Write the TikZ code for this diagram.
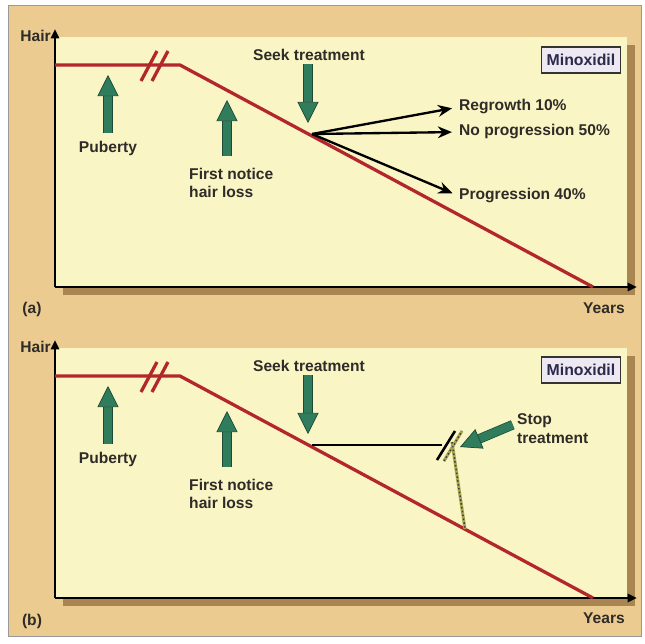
\documentclass[tikz,border=0pt]{standalone}
\usepackage{fontspec}
\setmainfont{Liberation Sans}
\usetikzlibrary{arrows.meta,
    calc,
    positioning}
\definecolor{frametan}{HTML}{EBCB8F}
\definecolor{paneyellow}{HTML}{FAF5C4}
\definecolor{shadowbrown}{HTML}{A98552}
\definecolor{hairred}{HTML}{B3262B}
\definecolor{greenfill}{HTML}{2F7D5C}
\definecolor{greendark}{HTML}{1C4A36}
\definecolor{labeltext}{HTML}{2E2B28}
\definecolor{boxfill}{HTML}{EEE8F2}
\definecolor{boxtext}{HTML}{2A2A4C}
\definecolor{dotolive}{HTML}{A9A850}
\tikzset{
  x=0.03cm, y=-0.03cm,
  label/.style={font=\bfseries\fontsize{13.3}{16}\selectfont, text=labeltext, inner sep=0pt},
  pane/.style={fill=paneyellow},
  shadow/.style={fill=shadowbrown},
  axis/.style={draw=black, line width=2pt, -{Triangle[length=8pt, width=7pt]}},
  hairline/.style={draw=hairred, line width=2.8pt, line join=miter},
  breakmark/.style={draw=hairred, line width=2.8pt},
  greenarrow/.style={draw=greendark, double=greenfill, line width=0.6pt, double distance=7pt,
    -{Triangle[length=18pt, width=18pt, color=greendark, fill=greenfill, line width=0.6pt]}},
  outcome/.style={draw=black, line width=2pt, -{Stealth[length=12pt, width=10pt]}},
  treatline/.style={draw=black, line width=2.2pt},
  offdots/.style={draw=dotolive, line width=2.6pt, postaction={draw=black!75, dotted, line width=1.3pt}},
  drugbox/.style={draw=black!80, line width=1.1pt, fill=boxfill, text=boxtext, inner sep=0pt,
    minimum width=67pt, minimum height=22pt, font=\bfseries\fontsize{13.5}{15}\selectfont},
  }

\begin{document}
\begin{tikzpicture}
  \useasboundingbox (0,0) rectangle (645,643);
  % outer frame
  \fill[white] (0,0) rectangle (645,643);
  \filldraw[fill=frametan, draw=black!40, line width=0.8pt] (8,5) rectangle (641,636);

  % ---- panel (a) ----
  \fill[shadow] (63,45) rectangle (635,295);
  \fill[pane] (55,37) rectangle (627,287);
  \draw[axis] (55,287) -- (55,29);
  \draw[axis] (55,287) -- (637,287);
  \node[label, anchor=east] (hair-a)  at (51,36)  {Hair};
  \node[label]              (years-a) at (604,308) {Years};
  \node[label]              (tag-a)   at (32,309) {(a)};
  \node[drugbox]            (minox-a) at (581,60) {Minoxidil};

  % hair curve with time break
  \draw[hairline] (55,65) -- (180,65) -- (593,287);
  \draw[breakmark] (141,81) -- (157,51);
  \draw[breakmark] (152,81) -- (168,51);

  % events
  \node[label] (puberty-a) at (108,148) {Puberty};
  \coordinate (pubtip-a) at (108,75);
  \draw[greenarrow, shorten <=6pt] (puberty-a.north) -- (pubtip-a);
  \node[label, align=left, anchor=west] (notice-a) at (189,183) {First notice\\hair loss};
  \coordinate (noticetip-a) at (227,100);
  \draw[greenarrow] (notice-a.north -| noticetip-a) ++(0,-12) -- (noticetip-a);
  \node[label] (seek-a) at (309,55) {Seek treatment};
  \coordinate (seektip-a) at (308,123);
  \draw[greenarrow, shorten <=3pt] (seek-a.south -| seektip-a) -- (seektip-a);

  % outcomes under minoxidil
  \coordinate (branch-a) at (312,134);
  \node[label, anchor=west] (regrowth) at (459,107) {Regrowth 10\%};
  \node[label, anchor=west] (noprog)   at (459,132) {No progression 50\%};
  \node[label, anchor=west] (prog)     at (459,196) {Progression 40\%};
  \draw[outcome, shorten >=6pt] (branch-a) -- (regrowth.west);
  \draw[outcome, shorten >=6pt] (branch-a) -- (noprog.west);
  \draw[outcome, shorten >=6pt] (branch-a) -- (prog.west);

  % ---- panel (b) ----
  \fill[shadow] (63,356) rectangle (635,606);
  \fill[pane] (55,348) rectangle (627,598);
  \draw[axis] (55,598) -- (55,340);
  \draw[axis] (55,598) -- (637,598);
  \node[label, anchor=east] (hair-b)  at (51,347)  {Hair};
  \node[label]              (years-b) at (604,618) {Years};
  \node[label]              (tag-b)   at (32,621) {(b)};
  \node[drugbox]            (minox-b) at (581,370) {Minoxidil};

  \draw[hairline] (55,376) -- (180,376) -- (593,598);
  \draw[breakmark] (141,392) -- (157,362);
  \draw[breakmark] (152,392) -- (168,362);

  \node[label] (puberty-b) at (108,459) {Puberty};
  \coordinate (pubtip-b) at (108,386);
  \draw[greenarrow, shorten <=6pt] (puberty-b.north) -- (pubtip-b);
  \node[label, align=left, anchor=west] (notice-b) at (189,494) {First notice\\hair loss};
  \coordinate (noticetip-b) at (227,411);
  \draw[greenarrow] (notice-b.north -| noticetip-b) ++(0,-12) -- (noticetip-b);
  \node[label] (seek-b) at (309,366) {Seek treatment};
  \coordinate (seektip-b) at (308,434);
  \draw[greenarrow, shorten <=3pt] (seek-b.south -| seektip-b) -- (seektip-b);

  % treatment held, then stopped
  \coordinate (branch-b) at (312,445);
  \coordinate (halt) at (442,445);
  \draw[treatline] (branch-b) -- (halt);
  \draw[treatline] (437,460) -- (455,431);
  \draw[offdots] (444,461) -- (462,431);
  \coordinate (relapse) at (465,529);
  \draw[offdots] (452,442) -- (relapse);
  \node[label, align=left, anchor=west] (stop) at (517,429) {Stop\\treatment};
  \coordinate (stoptip) at (460,447);
  \draw[greenarrow, shorten <=4pt] ($(stop.north west)!0.3!(stop.south west)$) -- (stoptip);
\end{tikzpicture}
\end{document}
